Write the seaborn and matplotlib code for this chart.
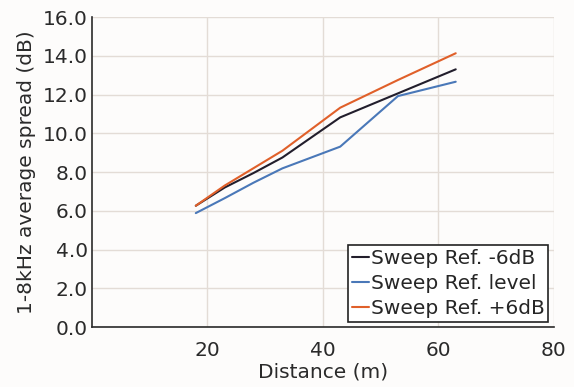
import matplotlib
matplotlib.use("Agg")
import matplotlib.pyplot as plt
import seaborn as sns
import pandas as pd

distance = [18, 23, 28, 33, 43, 53, 63]
ref_minus6 = [6.26, 7.2, 7.95, 8.75, 10.82, 12.06, 13.3]
ref_level = [5.88, 6.65, 7.45, 8.19, 9.31, 11.92, 12.66]
ref_plus6 = [6.26, 7.3, 8.2, 9.1, 11.32, 12.75, 14.13]
series_names = ["Sweep Ref. -6dB", "Sweep Ref. level", "Sweep Ref. +6dB"]
colors = ["#221e2c", "#4a78b8", "#e0602a"]

df = pd.DataFrame({
    "Distance": distance * 3,
    "Spread": ref_minus6 + ref_level + ref_plus6,
    "Series": sum([[n] * len(distance) for n in series_names], []),
})

sns.set_style("white")
plt.rcParams["font.family"] = ["DejaVu Sans"]

FS = 14.5
fig = plt.figure(figsize=(5.74, 3.87), dpi=100, facecolor="#fdfcfb")
ax = fig.add_axes([0.160, 0.155, 0.805, 0.801])
ax.set_facecolor("#fdfcfb")

sns.lineplot(data=df, x="Distance", y="Spread", hue="Series",
             palette=dict(zip(series_names, colors)), linewidth=1.5, ax=ax)

ax.set_xlim(0, 80)
ax.set_ylim(0, 16)
ax.set_xticks([20, 40, 60, 80])
ax.set_yticks([0, 2, 4, 6, 8, 10, 12, 14, 16])
ax.set_yticklabels([f"{v:.1f}" for v in [0, 2, 4, 6, 8, 10, 12, 14, 16]])
ax.grid(True, color="#e3dcd6", linewidth=1.0)
ax.set_axisbelow(True)
for s in ["top", "right"]:
    ax.spines[s].set_visible(False)
for s in ["left", "bottom"]:
    ax.spines[s].set_color("#2a2a2a")
    ax.spines[s].set_linewidth(1.2)
ax.tick_params(direction="in", length=4, width=1.0, color="#2a2a2a",
               labelsize=FS, labelcolor="#2a2a2a", pad=3)
ax.tick_params(axis="x", pad=10)
ax.set_xlabel("Distance (m)", fontsize=FS, color="#2a2a2a", labelpad=2)
ax.set_ylabel("1-8kHz average spread (dB)", fontsize=FS, color="#2a2a2a", labelpad=5)

leg = ax.legend(loc="lower right", fontsize=FS, frameon=True, fancybox=False,
                edgecolor="#222222", handlelength=0.8, handletextpad=0.1,
                borderpad=0.2, labelspacing=0.3, borderaxespad=0.0,
                bbox_to_anchor=(0.988, 0.016))
leg.get_frame().set_linewidth(1.2)
leg.get_frame().set_facecolor("white")
leg.get_frame().set_alpha(1)

fig.savefig("out.png", dpi=100, facecolor=fig.get_facecolor())
